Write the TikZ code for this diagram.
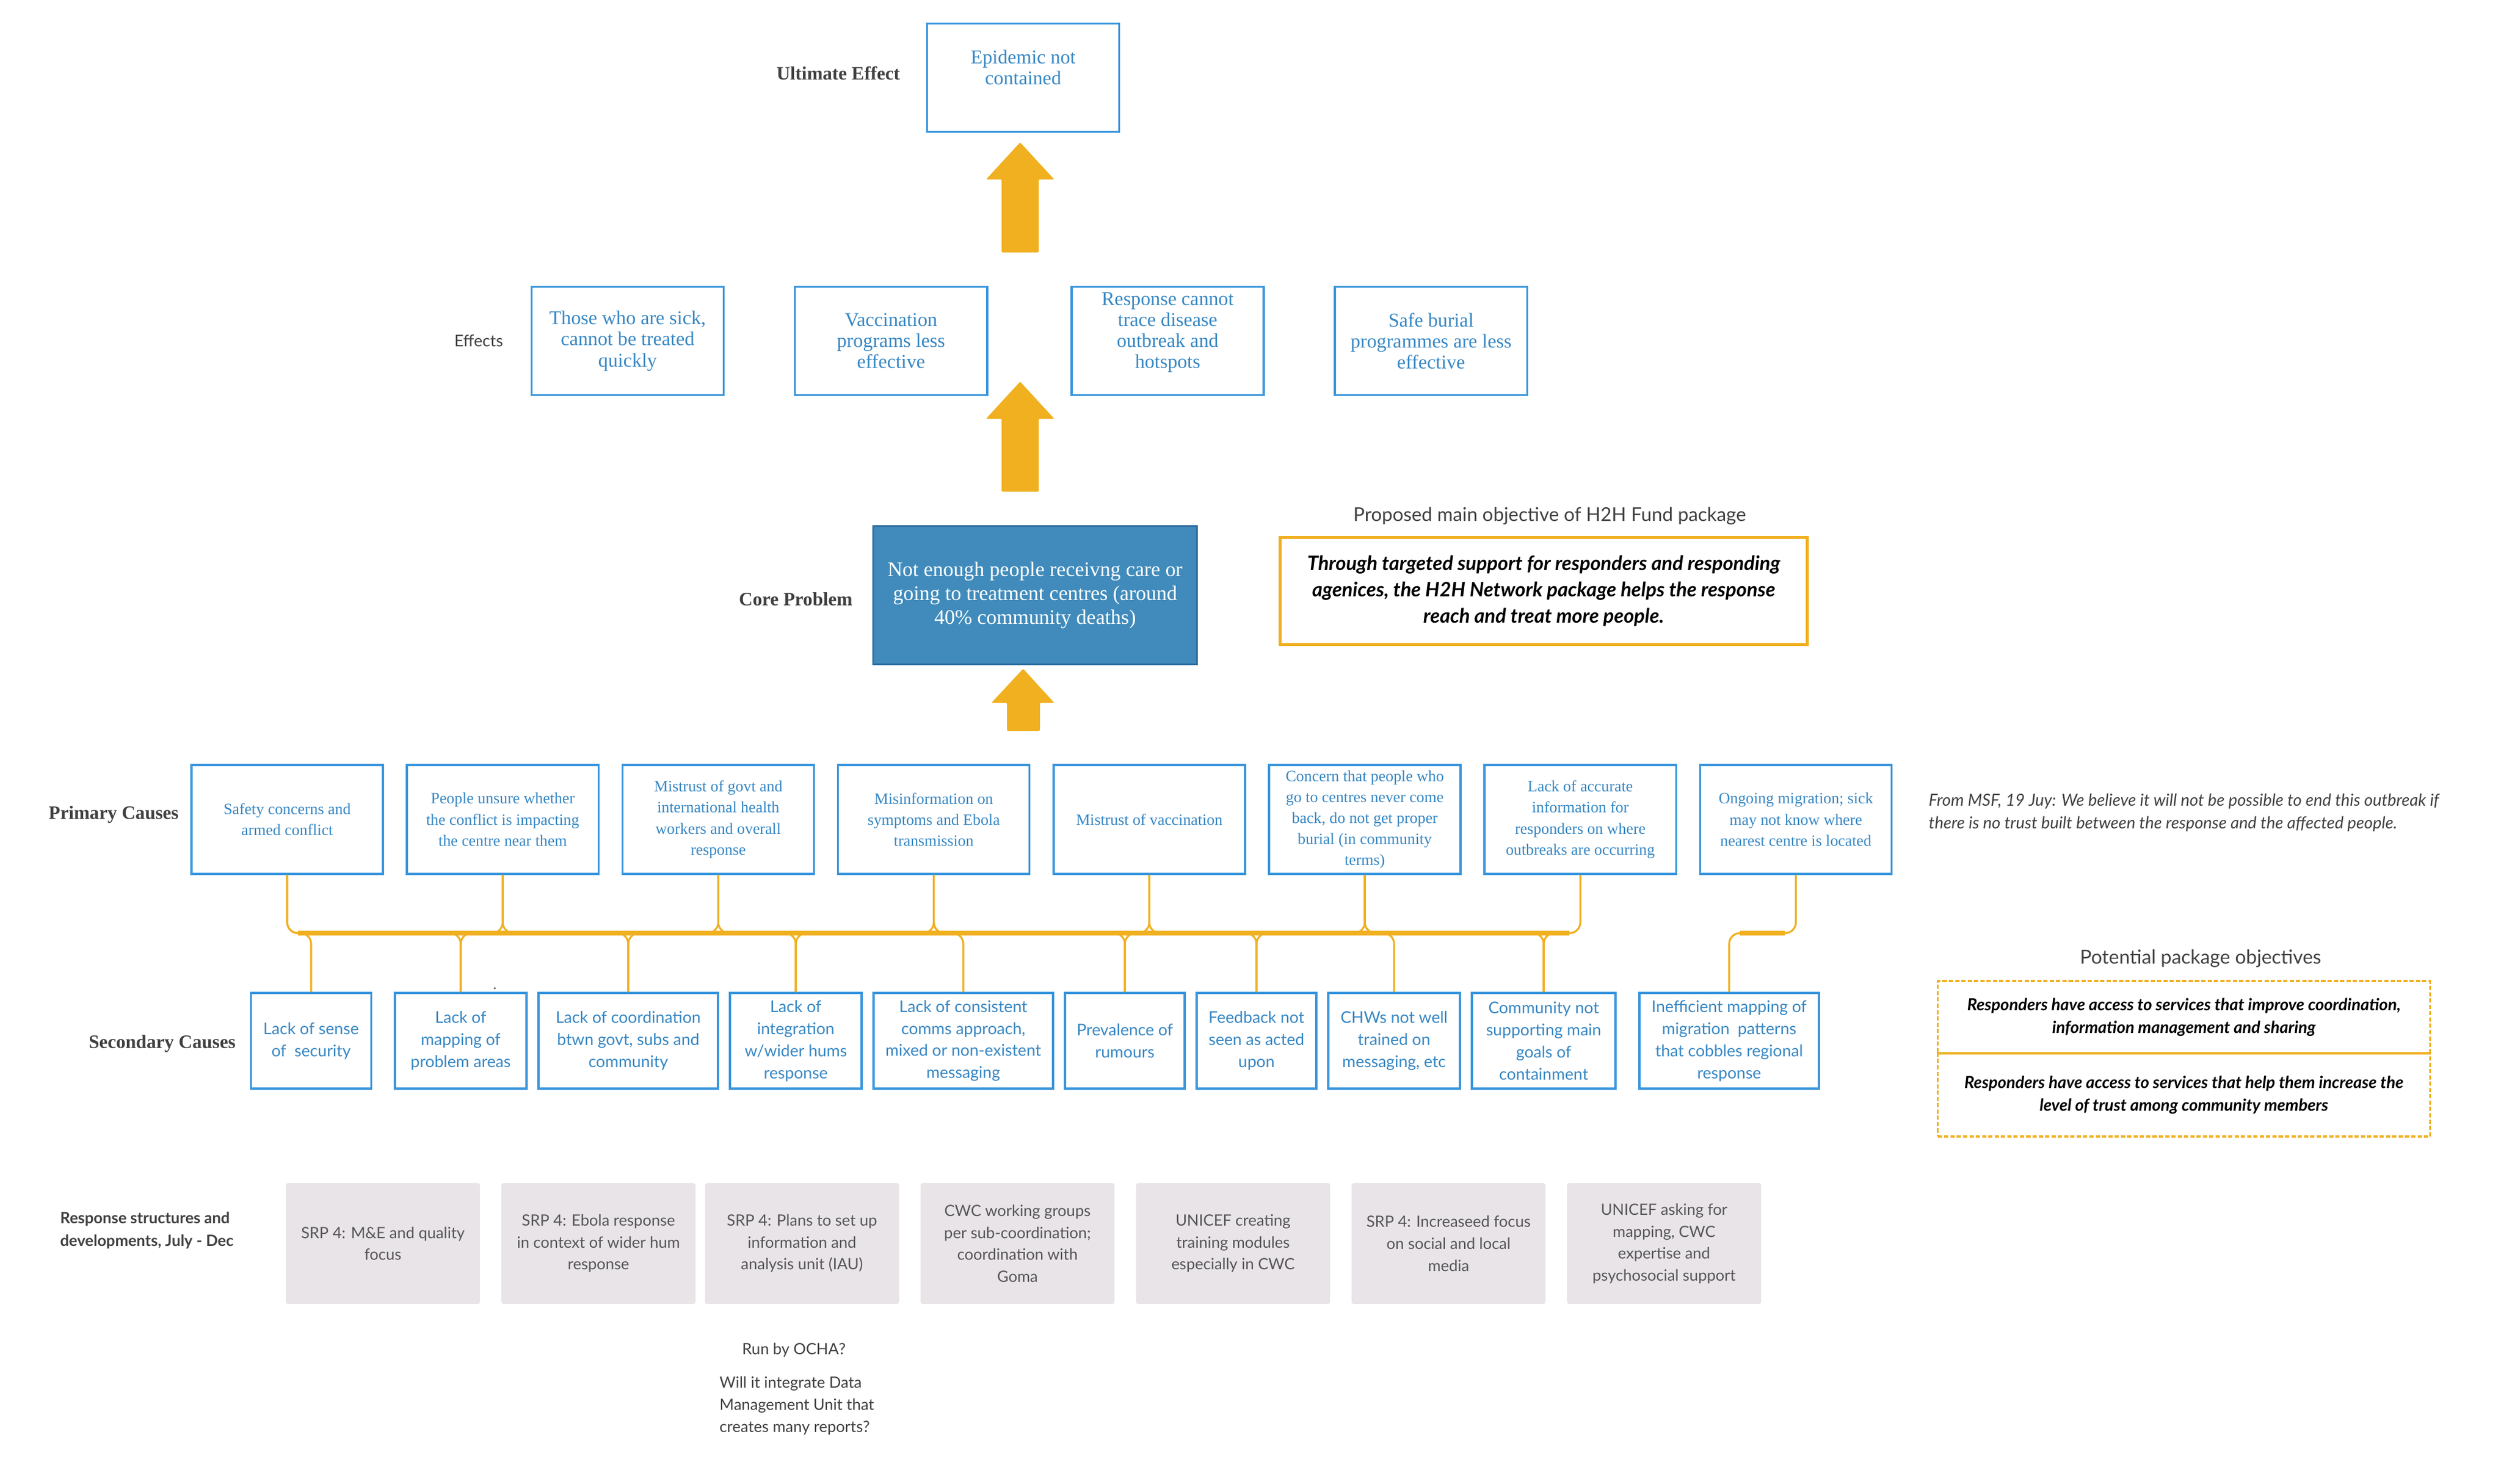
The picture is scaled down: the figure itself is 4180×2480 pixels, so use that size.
\documentclass[tikz,border=0pt]{standalone}
\usepackage{fontspec}
\setmainfont{Liberation Serif}
\newfontfamily\lato{Lato}
\usepackage{tikz}
\usetikzlibrary{positioning}

\definecolor{boxblue}{RGB}{58,150,221}
\definecolor{txtblue}{RGB}{55,135,195}
\definecolor{coreblue}{RGB}{64,139,187}
\definecolor{coreedge}{RGB}{47,111,159}
\definecolor{hhorange}{RGB}{240,176,32}
\definecolor{greyfill}{RGB}{232,228,232}
\definecolor{greytxt}{RGB}{85,85,85}
\definecolor{labeltxt}{RGB}{64,64,64}

\tikzset{
  effectbox/.style={draw=boxblue, line width=1pt, text=txtblue, align=center,
    minimum width=3.21cm, minimum height=1.81cm, inner sep=1pt,
    font=\fontsize{9.3}{10}\selectfont},
  primbox/.style={effectbox, minimum width=3.2cm, minimum height=1.82cm,
    font=\fontsize{7.5}{10}\selectfont},
  secbox/.style={draw=boxblue, line width=1pt, text=txtblue, align=center,
    minimum height=1.6cm, inner sep=1pt, font=\lato\fontsize{7.7}{10.5}\selectfont},
  greybox/.style={fill=greyfill, rounded corners=1pt, text=greytxt, align=center,
    minimum width=3.24cm, minimum height=2.02cm, inner sep=1pt,
    font=\lato\fontsize{7.4}{10.4}\selectfont},
  objbox/.style={draw=hhorange, dash pattern=on 2pt off 1pt, line width=0.9pt,
    minimum width=8.22cm, align=center, inner sep=1pt,
    font=\lato\bfseries\itshape\fontsize{7.9}{10.8}\selectfont},
  rowlabel/.style={text=labeltxt, inner sep=0pt, font=\bfseries\fontsize{9}{11}\selectfont},
  note/.style={text=labeltxt, inner sep=0pt, font=\lato\fontsize{7.4}{10.5}\selectfont},
  conn/.style={draw=hhorange, line width=0.9pt, rounded corners=0.18cm},
  bus/.style={draw=hhorange, line width=2.2pt, shorten <=0.18cm, shorten >=0.18cm},
  bigarrow/.style={fill=hhorange, rounded corners=0.6pt}
}

\begin{document}
\begin{tikzpicture}[x=0.01cm, y=-0.01cm]
  \useasboundingbox (0,0) rectangle (4180,2480);
  % Ultimate effect and effects
  \node [effectbox] (epidemic) at (1710,130) {Epidemic not\\contained\\\mbox{}};
  \node [effectbox] (e1) at (1049,570) {Those who are sick,\\cannot be treated\\quickly};
  \node [effectbox, right of=e1, node distance=4.4cm] (e2) {Vaccination\\programs less\\effective};
  \node [effectbox, right of=e2, node distance=4.62cm] (e3) {Response cannot\\trace disease\\outbreak and\\hotspots\\\mbox{}};
  \node [effectbox, right of=e3, node distance=4.4cm] (e4) {Safe burial\\programmes are less\\effective};
  % Core problem and objective
  \node [fill=coreblue, draw=coreedge, line width=0.8pt, text=white, align=center,
         minimum width=5.4cm, minimum height=2.31cm, inner sep=1pt,
         font=\fontsize{9.8}{11.4}\selectfont] (core) at (1730,995)
        {Not enough people receivng care or\\going to treatment centres (around\\40\% community deaths)};
  \node [draw=hhorange, line width=1.3pt, minimum width=8.8cm, minimum height=1.79cm,
         align=center, inner sep=1pt, font=\lato\bfseries\itshape\fontsize{9.45}{12.5}\selectfont] (objective) at (2580,988)
        {Through targeted support for responders and responding\\agenices, the H2H Network package helps the response\\reach and treat more people.};
  \node [text=labeltxt, font=\lato\fontsize{9.05}{11}\selectfont] (objtitle) at (2590,863)
        {Proposed main objective of H2H Fund package};
  % Primary causes
  \node [primbox] (p1) at (480,1370) {Safety concerns and\\armed conflict};
  \node [primbox, right of=p1, node distance=3.6cm] (p2) {People unsure whether\\the conflict is impacting\\the centre near them};
  \node [primbox, right of=p2, node distance=3.6cm] (p3) {Mistrust of govt and\\international health\\workers and overall\\response};
  \node [primbox, right of=p3, node distance=3.6cm] (p4) {Misinformation on\\symptoms and Ebola\\transmission};
  \node [primbox, right of=p4, node distance=3.6cm] (p5) {Mistrust of vaccination};
  \node [primbox, right of=p5, node distance=3.6cm] (p6) {Concern that people who\\go to centres never come\\back, do not get proper\\burial (in community\\terms)};
  \node [primbox, right of=p6, node distance=3.6cm] (p7) {Lack of accurate\\information for\\responders on where\\outbreaks are occurring};
  \node [primbox, right of=p7, node distance=3.6cm] (p8) {Ongoing migration; sick\\may not know where\\nearest centre is located};
  % Secondary causes
  \node [secbox, minimum width=2.01cm] (s1) at (520,1740) {Lack of sense\\of~ security};
  \node [secbox, minimum width=2.2cm] (s2) at (770,1740) {Lack of\\mapping of\\problem areas};
  \node [secbox, minimum width=3cm] (s3) at (1050,1740) {Lack of coordination\\btwn govt, subs and\\community};
  \node [secbox, minimum width=2.2cm] (s4) at (1330,1740) {Lack of\\integration\\w/wider hums\\response};
  \node [secbox, minimum width=3cm] (s5) at (1610,1740) {Lack of consistent\\comms approach,\\mixed or non-existent\\messaging};
  \node [secbox, minimum width=2cm] (s6) at (1880,1740) {Prevalence of\\rumours};
  \node [secbox, minimum width=2cm] (s7) at (2100,1740) {Feedback not\\seen as acted\\upon};
  \node [secbox, minimum width=2.2cm] (s8) at (2330,1740) {CHWs not well\\trained on\\messaging, etc};
  \node [secbox, minimum width=2.4cm] (s9) at (2580,1740) {Community not\\supporting main\\goals of\\containment};
  \node [secbox, minimum width=3cm] (s10) at (2890,1740) {Inefficient mapping of\\migration~ patterns\\that cobbles regional\\response};
  % Response structures
  \node [greybox] (g1) at (640,2079) {SRP 4: M\&E and quality\\focus};
  \node [greybox, right of=g1, node distance=3.6cm] (g2) {SRP 4: Ebola response\\in context of wider hum\\response};
  \node [greybox, right of=g2, node distance=3.4cm] (g3) {SRP 4: Plans to set up\\information and\\analysis unit (IAU)};
  \node [greybox, right of=g3, node distance=3.6cm] (g4) {CWC working groups\\per sub-coordination;\\coordination with\\Goma};
  \node [greybox, right of=g4, node distance=3.6cm] (g5) {UNICEF creating\\training modules\\especially in CWC};
  \node [greybox, right of=g5, node distance=3.6cm] (g6) {SRP 4: Increaseed focus\\on social and local\\media};
  \node [greybox, right of=g6, node distance=3.6cm] (g7) {UNICEF asking for\\mapping, CWC\\expertise and\\psychosocial support};
  \node [note] (ocha) at (1327,2257) {Run by OCHA?};
  \node [note, anchor=west, align=left] (dmu) at (1202,2350) {Will it integrate Data\\Management Unit that\\creates many reports?};
  % Row labels
  \node [rowlabel] (ultlbl) at (1401,122) {Ultimate Effect};
  \node [text=labeltxt, inner sep=0pt, font=\lato\fontsize{7.7}{9}\selectfont] (efflbl) at (800,570) {Effects};
  \node [rowlabel] (corelbl) at (1330,1002) {Core Problem};
  \node [rowlabel] (primlbl) at (190,1362) {Primary Causes};
  \node [rowlabel] (seclbl) at (271,1745) {Secondary Causes};
  \node [text=labeltxt, inner sep=0pt, anchor=west, align=left,
         font=\lato\bfseries\fontsize{7.4}{11}\selectfont] (resplbl) at (100,2057)
        {Response structures and\\developments, July - Dec};
  % Quote and package objectives
  \node [text=labeltxt, inner sep=0pt, anchor=west, align=left,
         font=\lato\itshape\fontsize{7.9}{10.8}\selectfont] (msf) at (3223,1359)
        {From MSF, 19 Juy: We believe it will not be possible to end this outbreak if\\there is no trust built between the response and the affected people.};
  \node [text=labeltxt, font=\lato\fontsize{9.2}{11}\selectfont] (pottitle) at (3678,1603) {Potential package objectives};
  \node [objbox, minimum height=1.21cm] (obj1) at (3650,1700.5)
        {Responders have access to services that improve coordination,\\information management and sharing};
  \node [objbox, minimum height=1.39cm] (obj2) at (3650,1830.5)
        {Responders have access to services that help them increase the\\level of trust among community members};
  % Big arrows
  \fill [bigarrow] (1674,422) -- (1674,300) -- (1648,300) -- (1705,238) -- (1762,300) -- (1736,300) -- (1736,422) -- cycle;
  \fill [bigarrow] (1674,822) -- (1674,700) -- (1648,700) -- (1705,638) -- (1762,700) -- (1736,700) -- (1736,822) -- cycle;
  \fill [bigarrow] (1683,1222) -- (1683,1175) -- (1657,1175) -- (1710,1118) -- (1762,1175) -- (1738,1175) -- (1738,1222) -- cycle;
  % Cause connectors
  \coordinate (busy) at (0,1560);
  \foreach \p/\s in {p1/s1, p1/s2, p2/s2, p2/s3, p3/s3, p3/s4, p4/s4, p4/s5, p4/s6,
                     p5/s6, p5/s7, p6/s7, p6/s8, p6/s9, p7/s9, p8/s10}
    \draw [conn] (\p.south) |- (\s.north |- busy) -- (\s.north);
  \draw [bus] (p1.south |- busy) -- (p7.south |- busy);
  \draw [bus] (p8.south |- busy) -- (s10.north |- busy);
  \fill [labeltxt] (827,1652) circle (0.5pt);
\end{tikzpicture}
\end{document}
